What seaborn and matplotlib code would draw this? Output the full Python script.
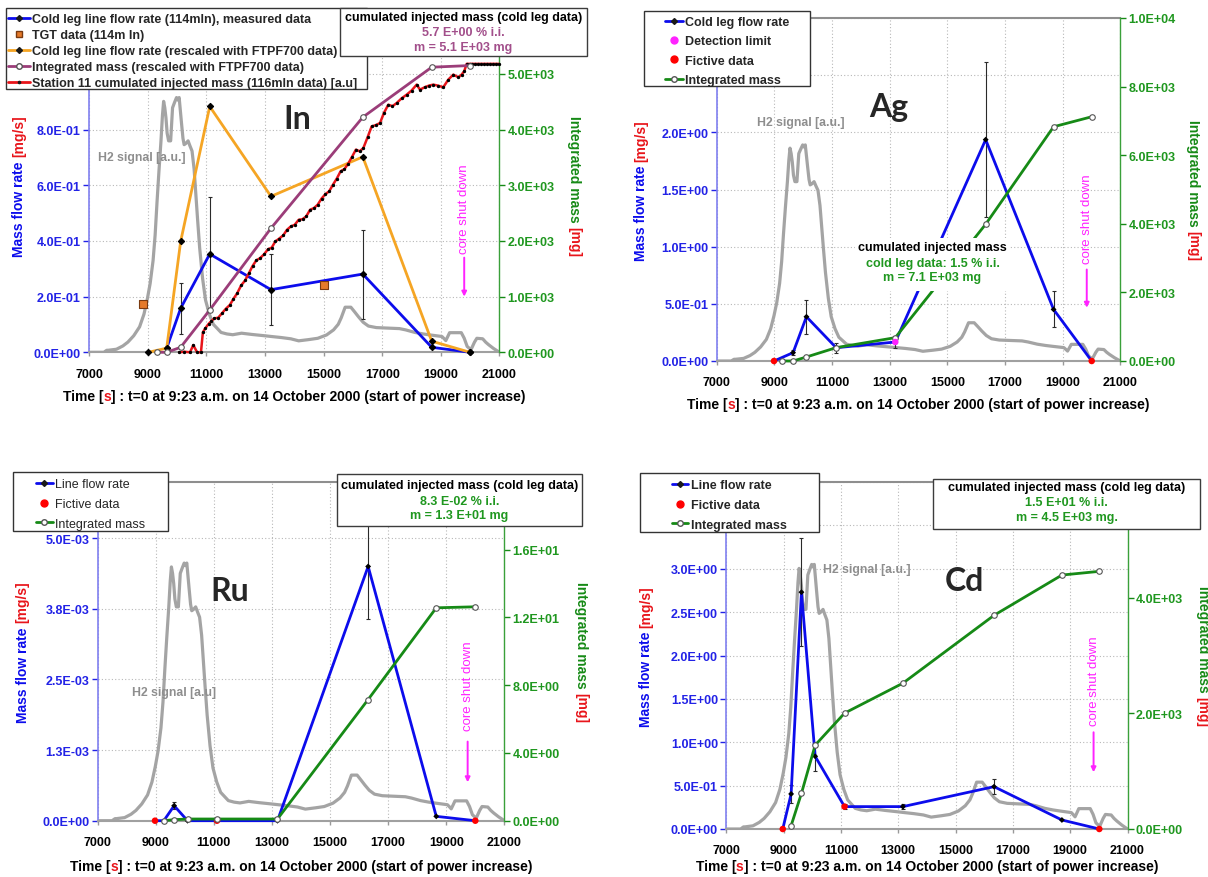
import matplotlib
matplotlib.use("Agg")
import matplotlib.pyplot as plt
import seaborn as sns
from matplotlib.lines import Line2D
from matplotlib.patches import Rectangle

# ---------------------------------------------------------------- data
time_ticks = [7000, 9000, 11000, 13000, 15000, 17000, 19000, 21000]

# H2 signal, normalised (peak = 1), same shape on every panel
h2_time = [7000, 7500, 7600, 7650, 7930, 8150, 8320, 8520, 8720, 8870, 8985, 9080,
           9180, 9250, 9315, 9380, 9450, 9500, 9540, 9580, 9620, 9660, 9710, 9780,
           9845, 9910, 9980, 10030, 10070, 10110, 10150, 10200, 10240, 10300, 10375,
           10440, 10510, 10580, 10640, 10700, 10770, 10870, 10970, 11100, 11235, 11500,
           11700, 11900, 12200, 12560, 12900, 13220, 13550, 13880, 14150, 14500, 14800,
           15100, 15340, 15500, 15600, 15735, 15930, 16050, 16200, 16350, 16530, 16800,
           17190, 17590, 17800, 18115, 18400, 18645, 19040, 19100, 19170, 19230, 19300,
           19700, 19800, 19900, 20030, 20150, 20230, 20430, 20530, 20630, 20800, 21000]
h2_norm = [0, 0, 0.008, 0.008, 0.012, 0.025, 0.04, 0.065, 0.10, 0.15, 0.21, 0.27,
           0.36, 0.46, 0.59, 0.71, 0.83, 0.93, 0.985, 0.96, 0.92, 0.86, 0.83, 0.83,
           0.96, 0.98, 1.0, 0.99, 1.0, 0.95, 0.90, 0.84, 0.815, 0.82, 0.83,
           0.81, 0.79, 0.72, 0.62, 0.52, 0.41, 0.29, 0.205, 0.15, 0.11, 0.078,
           0.072, 0.069, 0.075, 0.07, 0.066, 0.062, 0.058, 0.053, 0.045, 0.05, 0.055,
           0.068, 0.088, 0.11, 0.135, 0.177, 0.177, 0.16, 0.138, 0.118, 0.103, 0.097,
           0.095, 0.093, 0.088, 0.078, 0.072, 0.068, 0.062, 0.055, 0.046, 0.06, 0.077,
           0.077, 0.055, 0.023, 0.01, 0.04, 0.055, 0.053, 0.04, 0.03, 0.015, 0]

# ---- In panel
in_left_ticks = [0, 0.2, 0.4, 0.6, 0.8, 1.0, 1.2]
in_left_labels = ["0.0E+00", "2.0E-01", "4.0E-01", "6.0E-01", "8.0E-01", "", ""]
in_right_ticks = [0, 1000, 2000, 3000, 4000, 5000, 6000]
in_right_labels = ["0.0E+00", "1.0E+03", "2.0E+03", "3.0E+03", "4.0E+03", "5.0E+03", ""]
in_h2_scale = 0.915
in_cl_time = [9645, 10121, 11114, 13204, 16338, 18689, 19995]
in_cl_rate = [0.015, 0.158, 0.353, 0.225, 0.281, 0.018, 0.0]
in_err_time = [10121, 11114, 13204, 16338]
in_err_rate = [0.158, 0.353, 0.225, 0.281]
in_err = [0.092, 0.204, 0.127, 0.16]
in_tgt_time = [8824, 15019]
in_tgt_rate = [0.173, 0.24]
in_fp_time = [9017, 9645, 10121, 11114, 13204, 16338, 18689, 19995]
in_fp_rate = [0.0, 0.015, 0.398, 0.883, 0.560, 0.702, 0.040, 0.0]
in_int_time = [9303, 9645, 10121, 11114, 13204, 16338, 18689, 19998]
in_int_mass = [0, 0, 90, 760, 2228, 4222, 5120, 5150]
in_st11_time = [10070, 10250, 10440, 10553, 10683, 10814, 10880, 10960, 11075, 11170,
                11270, 11400, 11530, 11660, 11800, 11923, 12050, 12185, 12320, 12450,
                12577, 12700, 12830, 12969, 13100, 13230, 13350, 13480, 13622, 13750,
                13880, 14014, 14150, 14280, 14405, 14540, 14670, 14797, 14930, 15060,
                15189, 15320, 15450, 15580, 15710, 15842, 15970, 16103, 16230, 16355,
                16500, 16641, 16780, 16925, 17060, 17208, 17350, 17495, 17660, 17836,
                18000, 18177, 18290, 18450, 18600, 18744, 18900, 19085, 19256, 19427,
                19598, 19712, 19800, 19884, 19980, 20080, 20180, 20280, 20380, 20480,
                20580, 20680, 20780, 20880, 20980]
in_st11_mass = [0, 10, 0, 130, 0, 0, 360, 430, 510, 560,
                610, 620, 700, 780, 850, 960, 1060, 1200, 1290, 1420,
                1550, 1650, 1690, 1760, 1850, 1880, 1990, 2040, 2100, 2200,
                2260, 2290, 2380, 2390, 2440, 2560, 2590, 2650, 2760, 2840,
                2890, 3010, 3120, 3250, 3290, 3390, 3510, 3640, 3610, 3666,
                3860, 4057, 4080, 4117, 4300, 4447, 4420, 4477, 4560, 4627,
                4700, 4807, 4717, 4760, 4790, 4807, 4790, 4760, 4897, 4987,
                4940, 4987, 5050, 5180, 5180, 5180, 5180, 5180, 5180, 5180,
                5180, 5180, 5180, 5180, 5180]

# ---- Ag panel
ag_left_ticks = [0, 0.5, 1.0, 1.5, 2.0, 2.5, 3.0]
ag_left_labels = ["0.0E+00", "5.0E-01", "1.0E+00", "1.5E+00", "2.0E+00", "", ""]
ag_right_ticks = [0, 2000, 4000, 6000, 8000, 10000]
ag_right_labels = ["0.0E+00", "2.0E+03", "4.0E+03", "6.0E+03", "8.0E+03", "1.0E+04"]
ag_h2_scale = 1.89
ag_cl_time = [8985, 9647, 10110, 11142, 13193, 16329, 18685, 20008]
ag_cl_rate = [0.0, 0.073, 0.387, 0.116, 0.166, 1.936, 0.451, 0.0]
ag_meas_time = [9647, 10110, 11142, 16329, 18685]
ag_meas_rate = [0.073, 0.387, 0.116, 1.936, 0.451]
ag_err_time = [9647, 10110, 11142, 13193, 16329, 18685]
ag_err_rate = [0.073, 0.387, 0.116, 0.166, 1.936, 0.451]
ag_err = [0.02, 0.15, 0.045, 0.05, 0.68, 0.157]
ag_dl_time = [13193]
ag_dl_rate = [0.166]
ag_fict_time = [8985, 20008]
ag_fict_rate = [0.0, 0.0]
ag_int_time = [9276, 9647, 10110, 11142, 13193, 16329, 18685, 20008]
ag_int_mass = [0, 0, 117, 389, 681, 3988, 6829, 7121]

# ---- Ru panel
ru_left_ticks = [0, 0.00125, 0.0025, 0.00375, 0.005]
ru_left_labels = ["0.0E+00", "1.3E-03", "2.5E-03", "3.8E-03", "5.0E-03"]
ru_right_ticks = [0, 4, 8, 12, 16, 20]
ru_right_labels = ["0.0E+00", "4.0E+00", "8.0E+00", "1.2E+01", "1.6E+01", ""]
ru_h2_scale = 4.56e-3
ru_cl_time = [8975, 9278, 9634, 10095, 11109, 13190, 16311, 18655, 19999]
ru_cl_rate = [0.0, 0.0, 0.265e-3, 0.0, 0.0, 0.0, 4.5e-3, 0.077e-3, 0.0]
ru_meas_time = [9634, 10095, 13190, 16311, 18655]
ru_meas_rate = [0.265e-3, 0.0, 0.0, 4.5e-3, 0.077e-3]
ru_err_time = [9634, 16311]
ru_err_rate = [0.265e-3, 4.5e-3]
ru_err = [0.06e-3, 0.93e-3]
ru_fict_time = [8975, 11109, 19999]
ru_fict_rate = [0.0, 0.0, 0.0]
ru_int_time = [9278, 9634, 10095, 11109, 13190, 16311, 18655, 19999]
ru_int_mass = [0, 0.06, 0.1, 0.1, 0.1, 7.15, 12.56, 12.62]

# ---- Cd panel
cd_left_ticks = [0, 0.5, 1.0, 1.5, 2.0, 2.5, 3.0, 3.5, 4.0]
cd_left_labels = ["0.0E+00", "5.0E-01", "1.0E+00", "1.5E+00", "2.0E+00", "2.5E+00",
                  "3.0E+00", "", ""]
cd_right_ticks = [0, 2000, 4000, 6000]
cd_right_labels = ["0.0E+00", "2.0E+03", "4.0E+03", ""]
cd_h2_scale = 3.05
cd_cl_time = [8970, 9262, 9622, 10101, 11126, 13162, 16343, 18711, 20016]
cd_cl_rate = [0.0, 0.404, 2.73, 0.838, 0.258, 0.258, 0.488, 0.104, 0.0]
cd_meas_time = [9262, 9622, 10101, 13162, 16343, 18711]
cd_meas_rate = [0.404, 2.73, 0.838, 0.258, 0.488, 0.104]
cd_err_time = [9262, 9622, 10101, 11126, 13162, 16343]
cd_err_rate = [0.404, 2.73, 0.838, 0.258, 0.258, 0.488]
cd_err = [0.1, 0.62, 0.165, 0.03, 0.03, 0.09]
cd_fict_time = [8970, 11126, 20016]
cd_fict_rate = [0.0, 0.258, 0.0]
cd_int_time = [9262, 9622, 10101, 11126, 13162, 16343, 18711, 20016]
cd_int_mass = [58, 616, 1450, 2003, 2521, 3695, 4391, 4455]

# ---------------------------------------------------------------- style
sns.set_theme(style="white")
plt.rcParams["font.family"] = ["Liberation Sans", "DejaVu Sans"]

W, H = 1208, 878
fig = plt.figure(figsize=(W / 100, H / 100), dpi=100)
fig.patch.set_facecolor("white")

BLUE = "#0c0cec"
BLUE_T = "#2222e6"
GREEN = "#168a16"
GREEN_T = "#1f971f"
GRAY = "#a4a4a4"
ORANGE = "#f5a524"
PURPLE = "#9b3d79"
PURPLE_T = "#a24f8b"
RED = "#e8141a"
MAGENTA = "#ff22ff"
TGT = "#e57a2a"
TICK_FS = 9
LAB_FS = 10
LEG_FS = 9

pending = []


def make_axes(l, r, t, b):
    ax = fig.add_axes([l / W, 1 - b / H, (r - l) / W, (b - t) / H])
    ax2 = ax.twinx()
    return ax, ax2


def style(ax, ax2, yl, ylt, yll, yr, yrt, yrl):
    ax.set_xlim(7000, 21000)
    ax.set_ylim(*yl)
    ax2.set_ylim(*yr)
    ax.set_xticks(time_ticks, [str(t) for t in time_ticks], fontsize=TICK_FS,
                  fontweight="bold", color="black")
    ax.set_yticks(ylt, yll, fontsize=TICK_FS, fontweight="bold", color=BLUE_T)
    ax2.set_yticks(yrt, yrl, fontsize=TICK_FS, fontweight="bold", color=GREEN_T)
    ax.set_axisbelow(True)
    ax.grid(True, color="#b8b8b8", ls=(0, (1, 2)), lw=0.8)
    ax2.grid(False)
    ax.tick_params(axis="y", left=True, direction="out", length=4, width=1,
                   color=BLUE_T, pad=2)
    ax.tick_params(axis="x", bottom=True, direction="out", length=3, width=1,
                   color="#999999", pad=8)
    ax2.tick_params(axis="y", right=True, direction="out", length=4, width=1,
                    color=GREEN, pad=2)
    for s in ["left", "top", "bottom"]:
        ax2.spines[s].set_visible(False)
    ax.spines["right"].set_visible(False)
    ax.spines["left"].set_color("#8080f0")
    ax.spines["left"].set_linewidth(1.2)
    ax.spines["bottom"].set_color("#a0a0a0")
    ax.spines["bottom"].set_linewidth(1.5)
    ax.spines["top"].set_color("#8e8e8e")
    ax.spines["top"].set_linewidth(1.5)
    ax2.spines["right"].set_color("#3aa03a")
    ax2.spines["right"].set_linewidth(1.0)


def parts_text(ax, parts, x, y, rotation, fs):
    arts = []
    for s, c, g in parts:
        arts.append(ax.text(x, y, s, color=c, rotation=rotation, fontsize=fs,
                            fontweight="bold", ha="center", va="center",
                            transform=ax.transAxes, clip_on=False))
    pending.append((ax, arts, [p[2] for p in parts], x, y, rotation, fs))


def labels(ax, left_px, right_px, bottom_px):
    w = ax.get_position().width * W
    h = ax.get_position().height * H
    parts_text(ax, [("Time [", "black", 0), ("s", RED, 0),
                    ("] : t=0 at 9:23 a.m. on 14 October 2000 (start of power increase)", "black", 0)],
               0.5, -bottom_px / h, 0, LAB_FS)
    parts_text(ax, [("Mass flow rate", BLUE, 0), ("[mg/s]", RED, 1)],
               -left_px / w, 0.5, 90, LAB_FS)
    parts_text(ax, [("Integrated mass", GREEN, 0), ("[mg]", RED, 1)],
               1 + right_px / w, 0.5, 270, LAB_FS)


def resolve():
    fig.canvas.draw()
    r = fig.canvas.get_renderer()
    for ax, arts, gaps, x, y, rot, fs in pending:
        gap_px = fs * 100 / 72 * 0.28
        lens = []
        for a in arts:
            bb = a.get_window_extent(r)
            lens.append(bb.width if rot == 0 else bb.height)
        d = {0: (1, 0), 90: (0, 1), 270: (0, -1)}[rot]
        total = sum(lens) + gap_px * sum(gaps)
        cx, cy = ax.transAxes.transform((x, y))
        pos = -total / 2
        inv = ax.transAxes.inverted()
        for a, ln, g in zip(arts, lens, gaps):
            pos += g * gap_px
            c = pos + ln / 2
            a.set_position(inv.transform((cx + d[0] * c, cy + d[1] * c)))
            pos += ln


def line(ax, x, y, color, lw=2.0, marker=None, ms=3.2, mfc="black", mec="black",
         zorder=3):
    kws = dict(color=color, linewidth=lw, zorder=zorder, clip_on=False)
    if marker:
        kws.update(marker=marker, markersize=ms, markerfacecolor=mfc,
                   markeredgecolor=mec, markeredgewidth=0.8)
    sns.lineplot(x=x, y=y, ax=ax, estimator=None, sort=False, legend=False, **kws)


def dots(ax, x, y, color, size=22, marker="o", edge="none", zorder=5):
    sns.scatterplot(x=x, y=y, ax=ax, color=color, s=size, marker=marker,
                    edgecolor=edge, linewidth=0.8, legend=False, zorder=zorder,
                    clip_on=False)


def errbars(ax, x, y, e):
    ax.errorbar(x, y, yerr=e, fmt="none", ecolor="#2a2a2a", elinewidth=0.8,
                capsize=1.5, capthick=0.8, zorder=2.8)


def h2(ax, scale, label_xy, label):
    sns.lineplot(x=h2_time, y=[v * scale for v in h2_norm], ax=ax, color=GRAY,
                 linewidth=2.3, estimator=None, sort=False, legend=False, zorder=1.5)
    ax.text(label_xy[0], label_xy[1], label, color="#8e8e8e", fontsize=8.8,
            fontweight="bold", ha="left", va="center", zorder=2)


def shutdown(ax, ax2, t, v_text, v_from, v_to):
    ax2.text(t, v_text, "core shut down", rotation=90, color=MAGENTA, fontsize=9.5,
             ha="center", va="center", transform=ax.transData, zorder=4)
    ax2.annotate("", xy=(t, v_to), xytext=(t, v_from), xycoords=ax.transData,
                 textcoords=ax.transData,
                 arrowprops=dict(arrowstyle="-|>", color=MAGENTA, lw=1.4,
                                 mutation_scale=7, shrinkA=0, shrinkB=0))


def big(ax, ax2, t, v, s):
    ax2.text(t, v, s, fontsize=23, fontweight="bold", family=["Lato", "DejaVu Sans"],
             ha="center", va="center", transform=ax.transData, zorder=6)


def note(x0, x1, y0, y1, lines, edge=True):
    fig.add_artist(Rectangle((x0 / W, 1 - y1 / H), (x1 - x0) / W, (y1 - y0) / H,
                             transform=fig.transFigure, facecolor="white",
                             edgecolor="#3c3c3c" if edge else "none", lw=1.0, zorder=6))
    cx = (x0 + x1) / 2
    for s, c, y in lines:
        fig.text(cx / W, 1 - y / H, s, color=c, ha="center", va="center", fontsize=9,
                 fontweight="bold", zorder=7)


def legend(handles, texts, box, handle_x, weight="bold", spacing=0.3, hl=1.5, tp=0.2):
    x0, x1, y0, y1 = box
    fig.add_artist(Rectangle((x0 / W, 1 - y1 / H), (x1 - x0) / W, (y1 - y0) / H,
                             transform=fig.transFigure, facecolor="white",
                             edgecolor="#333333", lw=1.0, zorder=4.9))
    yc = (y0 + y1) / 2 + 2.5
    leg = fig.legend(handles, texts, loc="center left",
                     bbox_to_anchor=(handle_x / W, 1 - yc / H),
                     bbox_transform=fig.transFigure,
                     prop={"size": LEG_FS, "weight": weight},
                     frameon=False, borderpad=0, labelspacing=spacing, handlelength=hl,
                     handletextpad=tp, borderaxespad=0)
    leg.set_zorder(5)


h_flow = Line2D([], [], color=BLUE, lw=2, marker="D", ms=3, mfc="k", mec="k")
h_int = Line2D([], [], color=GREEN, lw=2, marker="o", ms=4, mfc="white", mec="#555555")
h_fict = Line2D([], [], ls="none", marker="o", ms=5, mfc="red", mec="red")
h_dl = Line2D([], [], ls="none", marker="o", ms=5, mfc=MAGENTA, mec=MAGENTA)

# ================================================================ In
ax, ax2 = make_axes(89.2, 499.4, 19.2, 353.3)
style(ax, ax2, (0, 1.2), in_left_ticks, in_left_labels, (0, 6000), in_right_ticks,
      in_right_labels)
h2(ax, in_h2_scale, (7287, 0.70), "H2 signal [a.u.]")
errbars(ax, in_err_time, in_err_rate, in_err)
line(ax, in_cl_time, in_cl_rate, BLUE, marker="D")
line(ax, in_fp_time, in_fp_rate, ORANGE, marker="D")
dots(ax, in_tgt_time, in_tgt_rate, TGT, size=26, marker="s", edge="#7a3a10")
line(ax2, in_st11_time, in_st11_mass, RED, lw=1.8, marker="o", ms=1.6)
line(ax2, in_int_time, in_int_mass, PURPLE, marker="o", ms=4, mfc="white", mec="#555555")
shutdown(ax, ax2, 19799, 0.517, 0.34, 0.20)
big(ax, ax2, 14105, 0.838, "In")
labels(ax, 70, 75, 44)
legend([h_flow,
        Line2D([], [], ls="none", marker="s", ms=5, mfc=TGT, mec="#7a3a10"),
        Line2D([], [], color=ORANGE, lw=2, marker="D", ms=3, mfc="k", mec="k"),
        Line2D([], [], color=PURPLE, lw=2, marker="o", ms=4, mfc="white", mec="#555555"),
        Line2D([], [], color=RED, lw=2, marker="o", ms=1.6, mfc="k", mec="k")],
       ["Cold leg line flow rate (114mln), measured data",
        "TGT data (114m In)",
        "Cold leg line flow rate (rescaled with FTPF700 data)",
        "Integrated mass (rescaled with FTPF700 data)",
        "Station 11 cumulated injected mass (116mln data) [a.u]"],
       (5.7, 367, 9, 90), 8, spacing=0.32, hl=1.75)
note(340, 587, 9, 57, [("cumulated injected mass (cold leg data)", "black", 18),
                       ("5.7 E+00 % i.i.", PURPLE_T, 33),
                       ("m = 5.1 E+03 mg", PURPLE_T, 48)])

# ================================================================ Ag
ax, ax2 = make_axes(716.8, 1120.3, 19, 362)
style(ax, ax2, (0, 3.0), ag_left_ticks, ag_left_labels, (0, 10000), ag_right_ticks,
      ag_right_labels)
h2(ax, ag_h2_scale, (8389, 2.09), "H2 signal [a.u.]")
errbars(ax, ag_err_time, ag_err_rate, ag_err)
line(ax, ag_cl_time, ag_cl_rate, BLUE)
dots(ax, ag_meas_time, ag_meas_rate, "black", size=9, marker="D")
dots(ax, ag_fict_time, ag_fict_rate, "red")
line(ax2, ag_int_time, ag_int_mass, GREEN, marker="o", ms=4, mfc="white", mec="#555555")
dots(ax2, ag_dl_time, [v * 10000 / 3.0 for v in ag_dl_rate], MAGENTA)
shutdown(ax, ax2, 19836, 1.25, 0.80, 0.466)
big(ax, ax2, 12981, 2.23, "Ag")
labels(ax, 76, 73, 43)
legend([h_flow, h_dl, h_fict, h_int],
       ["Cold leg flow rate", "Detection limit", "Fictive data", "Integrated mass"],
       (644, 810, 12, 87), 665, spacing=0.58, hl=1.45, tp=0.16)
note(855, 1010, 239, 292, [("cumulated injected mass", "black", 248),
                           ("cold leg data: 1.5 % i.i.", GREEN_T, 264),
                           ("m = 7.1 E+03 mg", GREEN_T, 278)], edge=False)

# ================================================================ Ru
ax, ax2 = make_axes(97.6, 504.4, 482.7, 821.7)
style(ax, ax2, (0, 0.006), ru_left_ticks, ru_left_labels, (0, 20), ru_right_ticks,
      ru_right_labels)
h2(ax, ru_h2_scale, (8185, 2.27e-3), "H2 signal [a.u]")
errbars(ax, ru_err_time, ru_err_rate, ru_err)
line(ax, ru_cl_time, ru_cl_rate, BLUE)
dots(ax, ru_meas_time, ru_meas_rate, "black", size=9, marker="D")
dots(ax, ru_fict_time, ru_fict_rate, "red")
line(ax2, ru_int_time, ru_int_mass, GREEN, marker="o", ms=4, mfc="white", mec="#555555")
shutdown(ax, ax2, 19735, 2.4e-3, 1.40e-3, 0.68e-3)
big(ax, ax2, 11544, 4.07e-3, "Ru")
labels(ax, 75, 77, 45)
legend([Line2D([], [], color=BLUE, lw=2, marker="D", ms=3, mfc="k", mec="k"), h_fict, h_int],
       ["Line flow rate", "Fictive data", "Integrated mass"], (12.6, 168.4, 473, 532), 36,
       weight="normal", spacing=0.62, hl=1.35)
note(337, 582, 475, 527, [("cumulated injected mass (cold leg data)", "black", 486),
                          ("8.3 E-02 % i.i.", GREEN_T, 501.7),
                          ("m = 1.3 E+01 mg", GREEN_T, 516)])

# ================================================================ Cd
ax, ax2 = make_axes(726.3, 1127.5, 483, 830)
style(ax, ax2, (0, 4.0), cd_left_ticks, cd_left_labels, (0, 6000), cd_right_ticks,
      cd_right_labels)
h2(ax, cd_h2_scale, (10367, 3.0), "H2 signal [a.u.]")
errbars(ax, cd_err_time, cd_err_rate, cd_err)
line(ax, cd_cl_time, cd_cl_rate, BLUE)
dots(ax, cd_meas_time, cd_meas_rate, "black", size=9, marker="D")
dots(ax, cd_fict_time, cd_fict_rate, "red")
line(ax2, cd_int_time, cd_int_mass, GREEN, marker="o", ms=4, mfc="white", mec="#555555")
shutdown(ax, ax2, 19816, 1.71, 1.115, 0.654)
big(ax, ax2, 15318, 2.865, "Cd")
labels(ax, 80, 75, 37)
legend([Line2D([], [], color=BLUE, lw=2, marker="D", ms=3, mfc="k", mec="k"), h_fict, h_int],
       ["Line flow rate", "Fictive data", "Integrated mass"], (640, 819, 474, 533), 672,
       spacing=0.6, hl=1.3)
note(933, 1200, 480, 530, [("cumulated injected mass (cold leg data)", "black", 488),
                           ("1.5 E+01 % i.i.", GREEN_T, 503),
                           ("m = 4.5 E+03 mg.", GREEN_T, 518)])

resolve()
fig.savefig("out.png", dpi=100, facecolor="white")
